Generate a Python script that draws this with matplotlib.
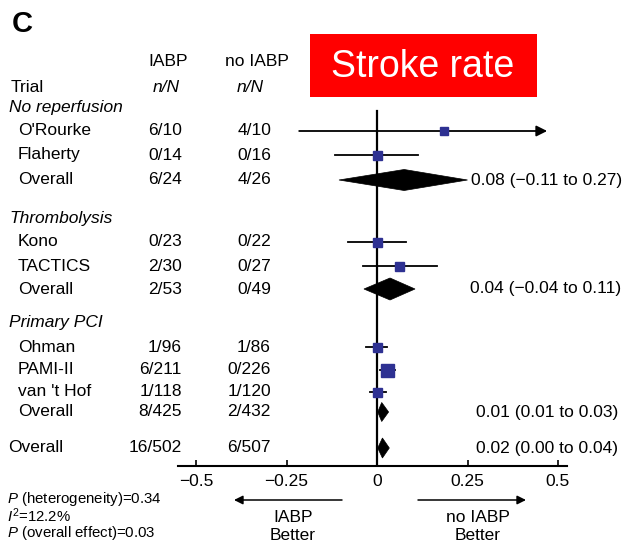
import matplotlib
matplotlib.use("Agg")
import matplotlib.pyplot as plt
from matplotlib.patches import Polygon, Rectangle

plt.rcParams['font.family'] = ['Liberation Sans', 'DejaVu Sans']
plt.rcParams['mathtext.fontset'] = 'custom'
plt.rcParams['mathtext.rm'] = 'Liberation Sans'
plt.rcParams['mathtext.it'] = 'Liberation Sans:italic'

# ---------------- data ----------------
group_names = ["No reperfusion", "Thrombolysis", "Primary PCI"]
studies = ["O'Rourke", "Flaherty", "Kono", "TACTICS", "Ohman", "PAMI-II", "van 't Hof"]
study_iabp = ["6/10", "0/14", "0/23", "2/30", "1/96", "6/211", "1/118"]
study_noiabp = ["4/10", "0/16", "0/22", "0/27", "1/86", "0/226", "1/120"]
study_est = [0.185, 0.0, 0.0, 0.06, 0.0, 0.028, 0.0]
study_lo = [-0.215, -0.116, -0.08, -0.04, -0.03, 0.008, -0.02]
study_hi = [0.60, 0.113, 0.08, 0.165, 0.028, 0.05, 0.025]
study_weight = [8, 9, 9, 9, 9, 13, 9]

pooled_names = ["Overall", "Overall", "Overall", "Overall"]
pooled_iabp = ["6/24", "2/53", "8/425", "16/502"]
pooled_noiabp = ["4/26", "0/49", "2/432", "6/507"]
pooled_est = [0.075, 0.036, 0.013, 0.015]
pooled_lo = [-0.105, -0.036, 0.002, 0.002]
pooled_hi = [0.25, 0.105, 0.032, 0.034]
pooled_text = ["0.08 (\u22120.11 to 0.27)", "0.04 (\u22120.04 to 0.11)",
               "0.01 (0.01 to 0.03)", "0.02 (0.00 to 0.04)"]

xticks = [-0.5, -0.25, 0, 0.25, 0.5]
xtick_labels = ["\u22120.5", "\u22120.25", "0", "0.25", "0.5"]

stats_text = [r"$\it{P}$ (heterogeneity)=0.34", r"$I^{2}$=12.2%", r"$\it{P}$ (overall effect)=0.03"]

# ---------------- layout ----------------
W, H = 628, 543
fig = plt.figure(figsize=(W / 100, H / 100), dpi=100)

def ftext(x, y, s, **kw):
    return fig.text(x / W, 1 - y / H, s, **kw)

AX_L, AX_R, AX_B = 178, 567, 466
X0, SCALE = 377, 362
ax = fig.add_axes([AX_L / W, (H - AX_B) / H, (AX_R - AX_L) / W, AX_B / H])
ax.set_xlim((AX_L - X0) / SCALE, (AX_R - X0) / SCALE)
ax.set_ylim(AX_B, 0)
ax.patch.set_alpha(0)
for s in ["top", "right", "left"]:
    ax.spines[s].set_visible(False)
ax.spines["bottom"].set_linewidth(1.5)
ax.set_yticks([])
ax.set_xticks(xticks)
FS = 12.5
ax.set_xticklabels(xtick_labels, fontsize=FS)
ax.tick_params(axis='x', direction='in', length=4, width=1.2, pad=6)

study_y = [131, 155, 242, 266, 347, 370, 392]
pooled_y = [180, 289, 412, 448]
group_y = [108, 218, 322]
blue = '#2e3192'

# zero line
ax.plot([0, 0], [111, AX_B], color='black', lw=1.6, zorder=2)

# studies
clip_hi = 0.47
for i, name in enumerate(studies):
    y = study_y[i]
    hi = study_hi[i]
    if hi > clip_hi:
        ax.annotate('', xy=(clip_hi, y), xytext=(study_lo[i], y),
                    arrowprops=dict(arrowstyle='-|>', lw=1.3, color='black',
                                    mutation_scale=16, shrinkA=0, shrinkB=0), zorder=3)
    else:
        ax.plot([study_lo[i], hi], [y, y], color='black', lw=1.3, zorder=3)
    ax.plot(study_est[i], y, marker='s', ms=study_weight[i] * 0.72, color=blue,
            mec=blue, zorder=4)
    ftext(18, y, name, fontsize=FS, va='center', ha='left')
    ftext(182, y, study_iabp[i], fontsize=FS, va='center', ha='right')
    ftext(271, y, study_noiabp[i], fontsize=FS, va='center', ha='right')

# pooled diamonds
half_h = [10.5, 11, 9.5, 10]
text_x = [471, 470, 476, 476]
for i in range(len(pooled_est)):
    y = pooled_y[i]
    h = half_h[i]
    poly = Polygon([(pooled_lo[i], y), (pooled_est[i], y - h), (pooled_hi[i], y),
                    (pooled_est[i], y + h)], closed=True, facecolor='black',
                   edgecolor='black', lw=0.5, zorder=4)
    ax.add_patch(poly)
    nx = 18 if i < 3 else 8
    ftext(nx, y, pooled_names[i], fontsize=FS, va='center', ha='left')
    ftext(182, y, pooled_iabp[i], fontsize=FS, va='center', ha='right')
    ftext(271, y, pooled_noiabp[i], fontsize=FS, va='center', ha='right')
    ftext(text_x[i], y, pooled_text[i], fontsize=FS, va='center', ha='left')

for g, y in zip(group_names, group_y):
    ftext(9, y, g, fontsize=FS, va='center', ha='left', style='italic')

# headers
ftext(11, 88, "Trial", fontsize=FS, va='center', ha='left')
ftext(168, 62, "IABP", fontsize=FS, va='center', ha='center')
ftext(257, 62, "no IABP", fontsize=FS, va='center', ha='center')
ftext(166, 88, "n/N", fontsize=FS, va='center', ha='center', style='italic')
ftext(250, 88, "n/N", fontsize=FS, va='center', ha='center', style='italic')
ftext(12, 24, "C", fontsize=21, va='center', ha='left', weight='bold')

# red title box
fig.patches.append(Rectangle((310 / W, 1 - 97 / H), (537 - 310) / W, (97 - 34) / H,
                             transform=fig.transFigure, facecolor='#ff0000',
                             edgecolor='none'))
ftext(423, 67, "Stroke rate", fontsize=27, va='center', ha='center', color='white')

# direction arrows
fig_arrow = dict(arrowstyle='-|>', lw=1.1, color='black', mutation_scale=13,
                 shrinkA=0, shrinkB=0)
ax.annotate('', xy=(234 / W, 1 - 500 / H), xytext=(342 / W, 1 - 500 / H),
            xycoords='figure fraction', textcoords='figure fraction',
            arrowprops=fig_arrow, annotation_clip=False)
ax.annotate('', xy=(526 / W, 1 - 500 / H), xytext=(418 / W, 1 - 500 / H),
            xycoords='figure fraction', textcoords='figure fraction',
            arrowprops=fig_arrow, annotation_clip=False)
ftext(293, 517, "IABP", fontsize=FS, ha='center', va='center')
ftext(293, 535, "Better", fontsize=FS, ha='center', va='center')
ftext(478, 517, "no IABP", fontsize=FS, ha='center', va='center')
ftext(478, 535, "Better", fontsize=FS, ha='center', va='center')

# stats (one multi-line block)
ftext(7, 516, "\n".join(stats_text), fontsize=10.8, ha='left', va='center',
      linespacing=0.92)

fig.savefig("out.png", dpi=100)
